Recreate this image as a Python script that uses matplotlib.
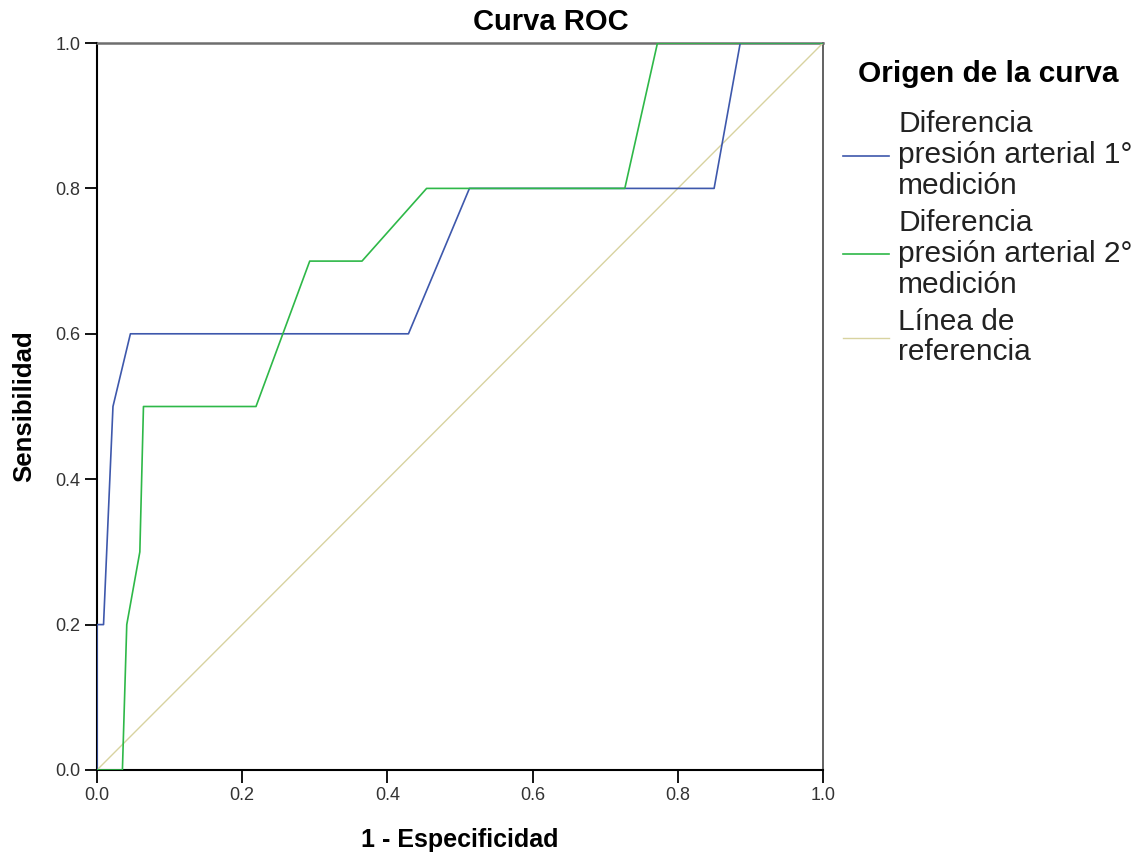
import matplotlib
matplotlib.use("Agg")
import matplotlib.pyplot as plt

plt.rcParams['font.family'] = ['Liberation Sans', 'DejaVu Sans']

# ROC curve data (1 - Especificidad, Sensibilidad)
fpr_1 = [0.0, 0.0, 0.009, 0.022, 0.046, 0.429, 0.513, 0.850, 0.886, 1.0]
tpr_1 = [0.0, 0.2, 0.2, 0.5, 0.6, 0.6, 0.8, 0.8, 1.0, 1.0]

fpr_2 = [0.0, 0.035, 0.041, 0.059, 0.064, 0.219, 0.293, 0.365, 0.454, 0.727, 0.772, 1.0]
tpr_2 = [0.0, 0.0, 0.2, 0.3, 0.5, 0.5, 0.7, 0.7, 0.8, 0.8, 1.0, 1.0]

ref_x = [0.0, 1.0]
ref_y = [0.0, 1.0]

labels = ["Diferencia\npresión arterial 1°\nmedición",
          "Diferencia\npresión arterial 2°\nmedición",
          "Línea de\nreferencia"]
ticks = [0.0, 0.2, 0.4, 0.6, 0.8, 1.0]
tick_labels = ["0.0", "0.2", "0.4", "0.6", "0.8", "1.0"]

W, H = 1137, 858
fig = plt.figure(figsize=(W / 100, H / 100), dpi=100)
ax = fig.add_axes([97 / W, 88 / H, 726 / W, 727 / H])

l_ref, = ax.plot(ref_x, ref_y, color='#D8D3A0', lw=1.0, zorder=2)
l1, = ax.plot(fpr_1, tpr_1, color='#3E58AC', lw=1.2, zorder=3)
l2, = ax.plot(fpr_2, tpr_2, color='#2EB848', lw=1.2, zorder=4)

ax.set_xlim(0, 1)
ax.set_ylim(0, 1)
ax.set_xticks(ticks)
ax.set_xticklabels(tick_labels)
ax.set_yticks(ticks)
ax.set_yticklabels(tick_labels)
ax.tick_params(axis='both', direction='out', length=9, width=1.3,
               labelsize=13, labelcolor='#333333', color='black', pad=3)

for s in ['left', 'bottom']:
    ax.spines[s].set_color('black')
    ax.spines[s].set_linewidth(1.5)
ax.spines['top'].set_color('#6e6e6e')
ax.spines['top'].set_linewidth(1.8)
ax.spines['right'].set_color('#555555')
ax.spines['right'].set_linewidth(1.3)
for s in ax.spines.values():
    s.set_zorder(1)

ax.set_xlabel('1 - Especificidad', fontsize=18, fontweight='bold', va='center')
ax.xaxis.set_label_coords(0.5, (770 - 840) / 727)
ax.set_ylabel('Sensibilidad', fontsize=18.5, fontweight='bold', va='center')
ax.yaxis.set_label_coords((24 - 97) / 726, 0.5)

ax.set_title('Curva ROC', x=(551 - 97) / 726, y=(770 - 22) / 727, pad=0,
             va='center', fontsize=21, fontweight='bold')

leg = ax.legend([l1, l2, l_ref], labels, loc='upper left',
                bbox_to_anchor=(843 / W, 1 - 60 / H), bbox_transform=fig.transFigure,
                frameon=False, fontsize=21.5, borderpad=0, borderaxespad=0,
                handlelength=1.55, handletextpad=0.3, labelspacing=0.3,
                title='Origen de la curva',
                title_fontproperties={'weight': 'bold', 'size': 21.5})
leg._legend_box.sep = 16
for t in leg.get_texts():
    t.set_color('#222222')
    t.set_linespacing(1.13)

fig.savefig('out.png', dpi=100)
